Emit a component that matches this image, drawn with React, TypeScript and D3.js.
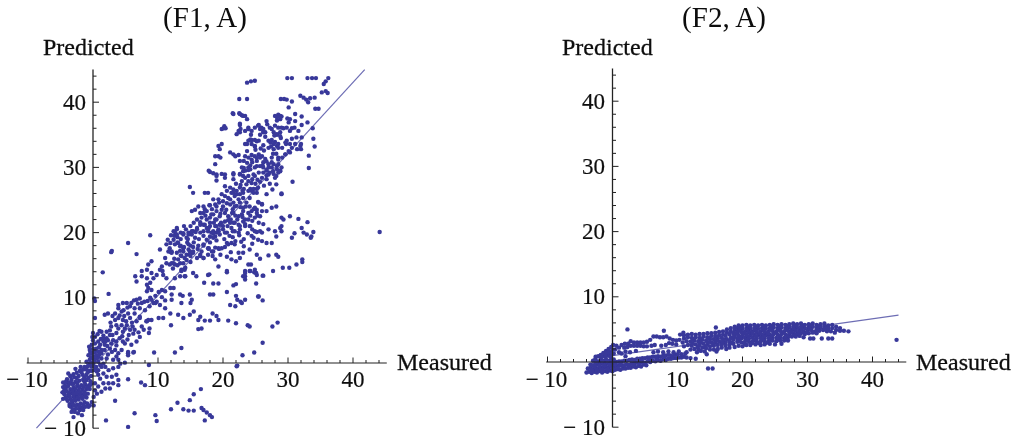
import React from "react";
import * as d3 from "d3";

// measured, predicted pairs
const f1Top = [23.7,43,24.3,43.2,24.9,43.3,29.9,43.7,30.6,43.7,33,43.7,33.7,43.7,34.3,43.7,35.5,42.8,35.8,43.2,36.2,43.7,35.2,41.5,35.8,41.7,36.1,41.4,22.5,40.5,23.7,40.5,28.9,40.5,29.4,40.5,29.8,40.4,30.6,40.1,30.1,39.2,31.9,41,32.4,40.7,32.8,40.4,33.1,40,33.4,40.6,34.1,40.7,34.2,39,34.7,39,21.5,38.3,22.5,38.3,22.9,38,23.1,37.9,23.7,37.4,20.1,36,20.4,36,19.8,35.9,20.2,36.3,
28,37.9,28.5,38.1,29,37.8,28.3,37.2,28.8,37.4,29.9,37.5,31.1,38.2,32.1,37.8,30.1,36.9,31.1,37.1,32.1,36.5,33,36.9,33.8,36,26.7,37.1,26.8,36.6,22.1,35.1,22.4,35.6,22.7,35.9,22.6,36.5,23.4,35.6,23.9,36.1,24.4,35.6,24.9,36.1,25.4,36.4,25.9,36.1,26.2,35.6,25.7,35.9,26.5,35.4,27.2,36.1,28,36.4,28.5,36.1,29.3,36,29.8,36.1,30.3,35.6,30.6,36,31.6,35.6,27.8,35.4,28.3,35.1,28.8,34.8,
28.3,37.7,28.8,37.9,30.3,37.4,26.2,35.4,28.3,35,28.8,35.4,29,36.1,27.5,35.9,25.5,36.5,26.2,35.9,23.9,35.9,22.6,35.4,21.6,38.2,22.6,38.2,23.4,37.9,22.6,36.7,31,36.1];
const f1Upper = [23.9,34.1,24.4,34.2,24.9,34.2,25.5,34.1,23.7,33.6,24.4,33.6,24.9,33.2,27,34.1,27.5,34.2,28,33.9,28.5,33.6,27,33,27.8,32.8,28.5,33,29.8,34.1,30.6,34.4,31.3,34.6,32.1,34.6,32,33.6,32,32.8,33.9,34.4,34.1,33.2,33.2,31.8,33.2,29.9,19.3,33.3,19.8,33.6,19.5,32.8,18.8,31.7,19.3,31.7,19.6,31.5,18.8,30.5,21.1,32.3,21.6,32,21.9,31.7,22.4,31.9,29.7,33.6,30.3,33.6,31.1,33.6,30.1,32.5,30.6,33,29.6,32,29.1,31.5,28.5,31.2,
22.6,31,23.4,31.7,23.9,31.5,24.4,31.9,24.9,31.7,25.5,32,26,31.7,26.5,31.3,25.7,31.5,25.2,31,24.4,31.2,23.7,30.7,23.9,30,23.4,29.5,24.2,29.7,23.1,28.7,23.9,28.7,22.9,30,24.9,30,25.7,30.2,26.2,30,27,30,27.8,30.5,28.5,30.5,29,30,28.3,29.7,28.8,29.5,27.2,29.2,27.8,29,26.2,29.2,26.7,28.8,25.5,29.2,24.9,28.7,28,28.4,27.5,31.5,27,30.5,28.5,29.2,17.8,29.5,18.5,29.1,19,28.7,19.8,29,20.3,28.4,21.6,29.1,
31.9,33.3,31.4,32.8,30.3,32.3,29.6,32,28.5,31.5,29.6,33.8,28.3,30.2,27.5,30,26.7,29.5,26.2,30.8,25.2,31.5,23.2,31,22.6,29,24.2,30.3,27.3,33.8,27.8,33.6,28.3,33.3,26.2,33.4,25.2,34,24.2,34.3,23.4,33.6,24.9,33.3];
const f1Mid = [18,29.3,19,28.9,20.3,28.9,19,28,21.6,28.9,21.6,28.2,22.6,28.9,23.1,29.4,23.9,29.6,24.7,28.9,23.4,28.4,23.9,27.9,22.9,27.9,23.6,27.4,26.7,29.6,27.7,29.4,28.8,29.4,27,28.9,26,28.4,26.7,28.2,28.2,28.7,27.2,27.5,28.2,27.4,30.7,27.8,14.9,27,15.4,26.1,17.2,26.1,17.7,26.1,20.3,27.1,21.1,26.9,21.6,26.6,20.6,26.4,21.3,26.1,22.1,26.4,22.6,26.9,19.8,25.9,20.3,25.6,20.8,25.3,21.8,25.6,22.6,25.9,23.1,26.1,23.9,26.4,24.7,26.7,25.4,26.9,25.2,26.1,24.4,26.4,26.7,25.9,27.6,26.6,29,26,18.5,25.1,19.3,25.1,20,24.8,21.1,25.1,22.4,25.1,23.1,25.3,23.6,24.6,24.1,25.3,25.4,24.7,26,24.3,15.7,23.5,16.2,24,17.2,23.6,17.9,24.2,18.8,24.3,20,24,21.1,24.3,21.8,24,22.6,24.6,23.1,23.8,24.1,24,24.9,23.8,
15.2,23.3,17,23,17.5,23.3,18.2,22.8,19,23.3,16.7,22.3,17.5,22,18,22.3,18.8,22,19.5,22.5,20.3,23,20.8,22.5,21.6,23,22.4,22.5,23.1,23.3,23.9,23,24.4,23.3,25.2,23.5,26,23.3,26.7,23.3,27.5,23.8,28.2,24,25.7,22.5,24.9,22.3,23.9,22,23.1,21.7,22.4,21.2,21.8,21.5,21.1,21.5,20.3,21.7,19.5,21.2,18.8,21,18,21,17.2,21.2,16.5,21.2,17.7,20.2,18.5,20.2,19.3,20.5,20,20.5,19.5,19.7,18.8,19.4,18,19.4,17.5,18.9,21.3,20.7,21.8,20.2,22.6,20.5,23.4,21,24.1,21,24.9,20.2,25.7,20.2,24.7,19.2,26,18.7,26.7,18.4,27,20.5,28,20.2,28.2,19.4,27.5,18.4,29,22.3,29.3,22,30.3,22.5,31.6,22.1,33,21.6,28.8,20.7,29,20.2,31,19.9,30.6,19.2,32.1,20.7,32.4,20,32.9,19.7,33.9,20.1,33.6,19.4,33.5,19.2,15.4,20.2,14.7,20,13.9,19.7,15.2,19.7,14.4,19.2,15.7,19.2,12.9,20.5,12.6,20.1,12.4,18.9,21.3,18.4,20.8,18.2,21.8,18.2,
21.6,26.1,22.1,25.9,23.2,26.7,24.2,26.7,25.2,26.7,24.7,26.1,21.6,24.6,22.1,24.1,21.4,23,21.9,22.6,22.9,22.8,23.4,22,24.2,22.6,24.7,23.6,25.2,23,25.5,24.6,26,24.4,22.6,21,23.4,21.3,22.4,20,23.2,19,24.2,21,24.4,19.5,25.2,20.1,26,20,25.5,21.5,26.2,21.3,21.6,21.5,21.5,20.2,21.9,18.7,23.2,17.9,
18,21.5,19,22,18.5,22.8,19,21,19.7,21.5,20,21,20.7,21,20.3,20,19,20,18.2,20,17.5,20.7,17,20.2,16.5,20,16,20.7,17,19.5,18,18.5,19,18.8,20.2,19,21,19.5,21.2,22,20.5,23.5,19.8,23.5,19,24,18,24.2,17,24,16.5,23,16,22,15.5,21.5,15,21,14.3,20.5,14,21,13.5,20,13.5,19,13,18.5,12.5,19.5,13.5,18,14.5,18.5,15,18,15.5,18.5,16.2,18,17,18,17.8,17.5,16.3,19,15.4,17.8,14.7,17.4,14,17.8,12,17,12.5,16,13.5,16.5,14.4,15.8,15,15.5,13,15,12.3,14.5];
const f1Lower = [11.3,18.2,11.8,17.6,12.6,18.2,13.4,17.9,12.1,16.9,12.9,16.9,13.9,17.1,14.1,16.1,14.9,16.6,15.4,16.9,16.5,16.6,17,16.1,16.7,17.1,17.7,17.6,18.5,17.1,19.4,17.5,17.7,16.6,18.8,15.9,11.1,16.1,11.8,15.1,12.6,15.1,13.1,15.9,13.9,15.3,13.6,14.3,14.1,14.3,15.4,13.8,15.9,13.3,10.6,14.8,10.7,14.1,12.6,13,14.1,13.3,17.7,13.5,19.3,14.8,20.6,14.1,20.6,16.3,21.3,15.9,22,15.6,22.6,16.1,22.4,16.9,23.1,16.9,24.1,17.4,25.2,16.6,23.9,15.1,23.4,14.1,24.1,14.1,24.9,14.3,26.2,13.4,25.7,16,27,16.5,28.2,16.6,28.5,16.3,27.7,14.1,29.2,14.6,30.2,14.6,31.3,15.1,32.2,15.9,32.2,15.5,23.1,13.3,
8.8,19.6,5.4,18.4,6.7,16.7,2.9,17.2,2.8,17,1.5,13.9,2.4,10.6,0.3,9.5,0.2,9.9,0.3,6.9,10.3,17.4,6.5,13.3,6.7,12.5,7.5,13.3,8.3,13,7.5,14.1,8.3,14.3,9,15.6,8.5,15.1,9,13.8,9.3,13,8.8,12.3,8.3,12,8.5,11.5,9,11.2,8.3,11,9.8,13.5,10.3,14.3,10.8,13.5,11.3,13,12.1,15.3,11.3,15.3,10.6,11.2,11.1,11,11.9,11.5,12.4,11.5,12.1,10.5,12.1,9.7,10.3,8.9,9.6,9.2,9,9.7,11.1,8.4,11.9,7.6,12,5.8,10.8,6.9,10.1,6.9,9,6.6,8.3,6.4,7.8,5.1,8.5,6.6,7.2,6.9,
12.4,20.2,12.9,20.7,12.9,19.7,13.9,19.9,14.7,19.7,15.2,20.2,16,20.5,17,21.2,17.8,20.7,18.5,19.9,19.3,20.2,11.9,18.4,13.1,18.4,13.9,17.6,14.7,18.2,15.4,17.1,16.5,16.4,17,16.1,11.6,17.1,12.1,17.1,13.6,16.4,14.4,16.6,15.2,16.9,16,16.1,15,16.4,13.4,15.3,12.4,15.3,13.6,14.1,14.2,14.6,13.4,13.3,14.2,13.3,17,18.2,18.5,19.2,17.8,17.6,18.3,17.1,19.3,17.6,19.8,17.6,20.6,18.4];
const f1Sparse = [13.4,10.5,13.8,10.3,13.6,9.2,14.9,10.5,15.2,9.7,15,9.2,13.1,7.4,13.9,6.9,14.9,7.4,15.5,7.9,16.5,7.1,16.2,6.6,18.5,10.5,18,10.5,16.7,5.3,16.2,5.2,17.2,6.5,18,6.5,18.4,7.6,19,7.2,19.3,6.6,20.8,6.5,22,6.1,23.8,5.8,24.1,5.6,21.1,8.9,22,10.3,22.2,9.7,22.7,9.4,23.4,9.7,21.9,8.7,22.9,9.2,25.4,10.2,20.6,10.9,21.6,11.9,22,12.1,23.4,13.8,23.4,13.3,23.4,12.8,24.2,14.1,24.9,13.9,25.2,13.5,24.3,15.1,17.9,13.6,17.1,12.3,18.5,12.2,19.3,12.2,20.6,13.9,
9.4,1.6,12.6,1.6,13.6,2.3,23,1.2,24.8,1.6,26.1,3.1,22.1,-0.5,27.6,5.6,28.4,6.2,25.5,10.2,26.1,9.6,25.1,12.2,26.1,13.4,24.8,13.9,25.1,13.8,44.1,20.1,29,21,29,25.9];
const f1Band = [3.9,8.9,3.9,8.4,4.6,9.2,5.2,9.2,5.9,9.2,6.7,9.7,7.2,9.9,5.7,8.7,6.4,8.4,5.4,7.6,4.4,7.9,3.4,7.6,2.3,7.6,1.8,7.4,3.4,6.6,3.9,6.9,4.6,6.6,5.7,6.9,6.4,7.6,7.2,8.4,8,8.1,8.7,8.7,9.3,9.2,9.8,9.4,7.2,7.1,6.7,6.4,5.2,5.8,4.4,5.8,3.6,5.8,2.8,5.6,2.1,4.8,1.3,4.8,2.6,4.3,3.6,4.6,4.6,4.8,5.7,5.1,6.4,5.1,7.5,5.6,8.2,6.4,8.7,5.3,8.6,4.6,7.2,4,6.7,3.3,5.9,2.8,5.4,1.7,4.6,3.3,4.1,3.8,3.6,3.3,3.1,3.5,2.3,3.5,1.6,3.8,2.6,2.2,3.4,2,4.4,2,1.1,2.8,1.8,2.8,1.1,1.7,0.5,2.2,3.9,0.5,3.1,0.5,2.1,0.7,5.4,1.2,6.3,1.7];
const f1Origin = [0,3.5,-0.2,2.8,0,2.2,-0.5,2,-0.7,1.2,-0.2,1.5,0.3,1.7,0.5,1.2,0,0.7,-0.5,0.5,-1,0.2,0.8,1,1.3,1.5,1.3,2,1.8,2,1.3,0.7,0.8,0.2,0,-0.1,0.5,-0.6,1.1,-0.3,1.6,-0.1,0.3,3,0.3,4,0,4.6,1.6,3.3,2.1,3.8,-0.5,-0.1,0.3,-1.1,0.8,-1.1,1.3,-0.6,-0.3,0,-0.8,-0.5,0.2,0.3,0.6,0.7,1,1.3,-0.4,1.6,-0.6,2.5,0.1,1,0.5,2,0.9,2.4,-0.1,4,
-1,-1,-1.5,-1,-2,-1.2,-2.5,-1.5,-3,-1.7,-3.5,-2,-4,-2.5,-0.5,-1.2,-0.3,-2,-1,-1.8,-1.6,-1.8,-2.2,-2,-2.8,-2.2,-3.3,-2.6,-3.9,-3,-4.3,-3.5,-0.4,-2.8,-1,-2.6,-1.5,-2.6,-2.1,-2.7,-2.7,-2.9,-3.3,-3.2,-3.8,-3.5,-4.4,-4,-0.6,-3.4,-1.2,-3.3,-1.8,-3.4,-2.4,-3.5,-3,-3.7,-3.5,-4,-4.1,-4.3,-4.4,-4.8,-0.5,-4,-1,-4,-1.6,-4.1,-2.2,-4.2,-2.8,-4.3,-3.3,-4.6,-3.8,-4.9,-4.2,-5.3,-0.8,-4.7,-1.4,-4.8,-2,-4.8,-2.5,-5,-3,-5.2,-3.5,-5.5,-3.9,-5.8,-1,-5.3,-1.6,-5.5,-2.2,-5.6,-2.7,-5.8,-3.2,-6,-3.6,-6.3,-1.3,-6,-1.9,-6.2,-2.4,-6.4,-2.9,-6.5,-3.4,-6.7,-1.6,-6.8,-2.1,-7,-2.6,-7,-3.1,-7.1,-0.2,-0.5,-0.7,-0.4,-1.3,-0.6,-2.7,-0.9,-3.8,-1.6,-4.6,-3,-4.7,-4.5,-4.6,-5.5,-0.9,-6.2,-1.9,-0.6];
const f1Below = [0.3,-0.6,0.6,-1.3,0.8,-1.8,1.1,-2.4,0.3,-3.1,0.3,-4.2,0.1,-5.2,-0.2,-6,-0.5,-6.5,-0.7,-6.7,-1.2,-6.7,-1.5,-7.2,-2,-7.2,-2.3,-7.7,-3,-8.3,-3.3,-7.5,-2.8,-7.5,-1.7,-8,1.9,-0.6,2.4,-1.1,3.1,-0.8,3.9,-0.6,1.6,-1.6,2.1,-2.1,2.9,-2.1,3.6,-1.8,3.9,-2.6,3.9,-3.4,1.6,-3.1,2.4,-3.1,3.1,-3.1,0.8,-3.6,1.3,-4.4,1.9,-3.9,2.6,-3.9,0.6,-4.7,0.1,-6.5,3.4,-5.8,2,-8.8,5.4,-9.8,6.4,-7.7,5.4,-2.5,7.4,-3,8,-3.4,9.6,-8,9.8,-8.9,12,-7.1,13,-6.1,13.9,-7.1,14.7,-7.3,15.5,-7.3,14.9,-5.7,15.5,-4.8,16.6,-4,16.7,-6.9,17,-7.2,17.5,-7.6,18,-8,18.3,-8.3,17.2,-8.8,8.6,-0.3,22.2,-0.4,4.2,-0.1,4.9,0.05,6.2,1.6,5.4,1.5,3.9,1.5,2.9,1.7,3.6,1];
const f1Extra = [17.3,22.6,18.3,23.6,19.4,24.6,20.6,24.5,21.5,23.6,22.7,23.9,23.5,24,18.6,21.5,19.3,20.2,20.6,20,21.5,19.3,22.5,19.6,23.8,19.9,24.5,20.5,19.6,22.9,20.8,21.9,22.2,22,23,22.4,24.5,21.8,25.3,22.6,16.5,21.6,15.8,20.1,14.6,19,13,19.3,12,19.6,11.5,18.9,13.4,17.2,14.9,17.1,16.1,17.5,18.8,17.7,20.3,17.8,21.2,17,19.6,16.6,18.4,16.4,22.8,18.6,24.5,18.3,25.4,18.9,
22,27.5,22.7,27.3,23,26.4,24.4,27.6,25,27.5,25.7,27.8,26.3,27.2,25.3,28.1,24.5,28.2,23.2,29.9,24.5,30.8,25.2,30.2,26.1,30.3,26.7,30.9,27.5,30.8,27.7,32.1,26.3,32.6,25.8,32.9,25,32.7,23.7,32.5,28.2,32.1,27.4,33.2,29.1,33,28.9,34.5,27.9,34.9,26.5,34.7,25.7,35,24.3,35,
8.8,10,9.6,10.3,10.1,10.9,10.6,10.1,11.1,9.6,7.9,9.4,8.4,9.5,7.5,9.2,6.9,9.1,6.3,9.6,5.3,8.5,4.7,8.1,4.8,7.2,5.1,6.4,6,6.2,4.1,7.3,3,7.2,2.7,6.2,3.9,5.3,4.9,5.3,6.1,5.6,7,4.7,6.2,4.5,5.5,4.3,4.5,4.1,3,4.3,2.6,5,1.6,4.2,1.9,3.3,2.8,3,3.6,2.7,4.9,3,5.3,3.6,1.2,3.7,0.8,3.3,0.7,4.4,1,4.9,2.2,2.6,2.3,1.3,0.9,1.7,0,1.6,-0.3,0.9,
-1.8,-1.4,-3.4,-2.1,-4.2,-2.9,-0.8,-1.4,-1.3,-2.2,-2.5,-2.3,-3.6,-3,-4.6,-3.7,-0.7,-2.3,-1.3,-2.9,-2.4,-3,-3,-3.2,-4.1,-3.7,-0.9,-3.7,-1.5,-3.7,-2.1,-3.8,-2.7,-3.9,-3.2,-4.2,-3.8,-4.5,-4.5,-4.4,-1.3,-4.4,-1.9,-4.5,-2.5,-4.6,-3,-4.8,-3.6,-5.1,-4.1,-5.5,-1.2,-5.1,-1.8,-5.2,-2.3,-5.3,-2.8,-5.5,-3.3,-5.8,-1.5,-6.4,-2.1,-6.6,-2.7,-6.5,-3.1,-6.4,-3.6,-6.6,-0.5,-3.5,-0.3,-3.2,-0.2,-1.2];

const f2Bottom = [-4,-1.6,-3.6,-1.5,-3.2,-1.7,-2.8,-1.5,-2.4,-1.6,-2,-1.4,-1.6,-1.6,-1.2,-1.4,-0.8,-1.5,-0.4,-1.3,0,-1.4,0.4,-1.2,0.8,-1.1,1.2,-1.2,1.6,-1,2,-1,2.4,-0.9,2.8,-0.9,3.2,-0.7,3.6,-0.8,4,-0.6,4.4,-0.7,4.8,-0.4,5.2,-0.5,
-3.8,-1,-3.4,-0.9,-3,-1.1,-2.6,-0.9,-2.2,-1,-1.8,-0.8,-1.4,-0.9,-1,-0.8,-0.6,-0.9,-0.2,-0.7,0.2,-0.8,0.6,-0.6,1,-0.6,1.4,-0.5,1.8,-0.5,2.2,-0.4,2.6,-0.4,3,-0.2,3.4,-0.3,3.8,-0.1,4.2,-0.2,4.6,0,5,-0.1,5.4,0.1,5.8,0,6.2,0.2,6.6,0.1,7,0.3,7.4,0.2,7.8,0.4,8.2,0.3,8.6,0.5,9,0.5,9.4,0.6,9.8,0.6,10.2,0.7,10.6,0.7,11,0.8,11.4,0.7,12,0.6,12.8,0.5,
-3.4,-0.4,-3,-0.5,-2.6,-0.3,-2.2,-0.4,-1.8,-0.2,-1.4,-0.3,-1,-0.2,-0.6,-0.3,-0.2,-0.1,0.2,-0.2,0.6,0,1,0.1,1.4,0.1,1.8,0.2,2.2,0.2,2.6,0.3,3,0.4,3.4,0.3,3.8,0.5,4.2,0.5,4.6,0.6,5,0.6,5.4,0.7,5.8,0.7,6.2,0.8,6.6,0.8,7,0.9,7.4,0.8,7.8,1,8.2,1,8.6,1.1,9,1,9.6,1.1,10,1.2,10.6,1.2,11.2,1.3,
-3,0.2,-2.6,0.3,-2.2,0.1,-1.8,0.3,-1.4,0.2,-1,0.4,-0.6,0.2,-0.2,0.5,0.2,0.4];
const f2Hump = [-2.6,0.8,-2.2,0.9,-1.8,1.1,-1.4,1.4,-1,1.7,-0.6,2,-0.2,2.3,0.1,2.6,0.6,2.5,1,2.2,-1.8,0.6,-1.2,0.9,-0.7,1.1,-0.3,1.5,0,1.9,0.4,1.9,0.2,1.3,-1,1.2,-0.6,1.5,
1.4,2.6,1.9,2.8,2.4,2.8,2.8,3.2,3.3,3,3.8,3,4.3,3,4.8,3,5.3,3.1,5.8,3.4,6.3,3.9,6.8,3.9,7.3,3.8,7.8,3.8,8.3,3.9,8.8,3.6,9.3,3.4,9.8,3.3,10.3,3.4,1.8,2.2,2.3,2.3,2.8,2.5,3.3,2.5,3.8,2.5,4.3,2.5,4.8,2.4,5.3,2.4,6,2.5,6.5,2.6,7.5,2.5,8.2,2.6,8.7,2.9,9.2,2.8,9.8,2.7,
1,1.5,1.4,1.3,2,1.6,2.7,1.5,3.6,1.7,6.3,1.5,7,1.6,7.8,1.5,8.6,1.6,9.4,1.5,10.2,1.6,11.4,1.5,2.3,5,7.9,4.8,10.9,4.5,15.9,5.3,14.7,-1,15.4,-1,43.7,3.4];
const f2RowA = [10.4,4.2,11,4.1,11.6,4.2,12.2,4.3,12.8,4.2,13.4,4.3,14,4.3,14.6,4.4,15.2,4.4,15.8,4.5,16.4,4.6,17,4.7,17.6,5,18.2,5.2,18.8,5.4,19.4,5.6,20,5.6,20.6,5.7,21.2,5.6,21.8,5.7,22.4,5.6,23,5.7,23.6,5.6,24.2,5.7,24.8,5.8,25.4,5.7,26,5.8,26.6,5.7,27.2,5.8,27.8,5.9,28.4,5.8,29,5.9,29.6,5.7,30.2,5.8,30.8,5.9,31.4,5.7,32,5.8,32.6,5.9,33.2,5.6,33.8,5.7,34.4,5.4,35,5.2];
const f2RowB = [11,3.6,11.6,3.8,12.2,3.7,12.8,3.8,13.4,3.7,14,3.9,14.6,3.8,15.2,4,15.8,4,16.4,4.1,17,4.2,17.6,4.5,18.2,4.7,18.8,4.9,19.4,5.1,20,5.1,20.6,5.2,21.2,5.1,21.8,5.2,22.4,5.1,23,5.2,23.6,5.1,24.2,5.2,24.8,5.3,25.4,5.2,26,5.3,26.6,5.2,27.2,5.3,27.8,5.4,28.4,5.3,29,5.4,29.6,5.2,30.2,5.3,30.8,5.4,31.4,5.2,32,5.3,32.6,5.4,33.2,5.1,33.8,5.2,34.4,4.9,35,4.8,35.6,4.8,36.3,4.7];
const f2RowC = [10.8,3,11.4,3.2,12,3.1,12.6,3.3,13.2,3.2,13.8,3.4,14.4,3.3,15,3.5,15.6,3.5,16.2,3.6,16.8,3.7,17.4,4,18,4.2,18.6,4.4,19.2,4.6,19.8,4.6,20.4,4.7,21,4.6,21.6,4.7,22.2,4.6,22.8,4.7,23.4,4.6,24,4.7,24.6,4.8,25.2,4.7,25.8,4.8,26.4,4.7,27,4.8,27.6,4.9,28.2,4.8,28.8,4.9,29.4,4.7,30,4.8,30.6,4.9,31.2,4.7,31.8,4.8,32.4,4.9,33,4.7,33.6,4.7,34.2,4.5];
const f2RowD = [11,2.4,11.6,2.6,12.2,2.5,12.8,2.7,13.4,2.6,14,2.8,14.6,2.7,15.2,3,15.8,3,16.4,3.1,17,3.2,17.6,3.5,18.2,3.7,18.8,3.9,19.4,4.1,20,4.1,20.6,4.2,21.2,4.1,21.8,4.2,22.4,4.1,23,4.2,23.6,4.1,24.2,4.2,24.8,4.3,25.4,4.2,26,4.3,26.6,4.2,27.2,4.3,27.8,4.4,28.4,4.3,29,4.4,29.6,4.3,30.2,4.4,30.8,4.5,31.4,4.4];
const f2RowE = [12,1.9,12.6,2,13.2,2,13.8,2.2,14.4,2.1,15,2.4,15.6,2.5,16.2,2.6,16.8,2.7,17.4,3,18,3.2,18.6,3.4,19.2,3.6,19.8,3.6,20.4,3.7,21,3.6,21.6,3.7,22.2,3.6,22.8,3.7,23.4,3.6,24,3.7,24.6,3.8,25.2,3.7,25.8,3.8,26.4,3.7,27,3.8,27.6,3.9,28.2,3.9,28.8,4,29.4,3.8,30.4,3.6,30.9,3.6,32.2,3.6,33.2,3.6,33.8,3.6];
const f2RowF = [13,1.5,13.6,1.7,14.2,1.6,15,1.9,15.6,1.9,16.2,2,16.8,2.2,17.4,2.5,18,2.7,18.6,2.8,19.2,3.1,19.8,3,20.4,3.2,21,3.1,21.6,3.2,22.2,3.1,22.8,3.2,23.4,3.1,24,3.2,24.6,3.3,25.2,3.2,25.8,3.3,26.4,3.3,27,3.3];
const f2RowG = [14.5,1.2,16,1.6,17.5,2,18,2.2,18.8,2.3,19.4,2.5,20,2.4,20.6,2.6,21.2,2.6,22,2.7,22.8,2.6,23.4,2.7,24.2,2.8,25,2.7,26,2.8];
const f2Fill = [18.9,5.2,19.7,5.35,20.9,5.4,22.1,5.4,23.3,5.4,24.5,5.5,25.7,5.5,26.9,5.5,28.1,5.6,29.3,5.6,30.5,5.6,31.7,5.5,32.9,5.4,19.5,4.85,20.7,4.9,21.9,4.95,23.1,4.9,24.3,5,25.5,5,26.7,5,27.9,5.1,29.1,5.1,30.3,5.1,31.5,5,32.7,5.1,19.1,4.35,20.3,4.4,21.5,4.45,22.7,4.4,23.9,4.45,25.1,4.5,26.3,4.5,27.5,4.6,28.7,4.6,29.9,4.55,31.1,4.6,18.5,3.8,19.7,3.85,20.9,3.9,22.1,3.9,23.3,3.9,24.5,4,25.7,4,26.9,4,28.1,4.1,18.3,2.95,19.5,3.35,20.7,3.4,21.9,3.4,23.1,3.45,24.3,3.45,25.5,3.5,26.7,3.5,20.3,2.8,21.5,2.9,22.5,2.9,23.7,2.95,
12.5,3.5,13.7,3.5,14.9,3.7,16.1,3.85,12.3,2.9,13.5,3,14.7,3,15.9,3.3,17.1,3.45,13.1,2.3,14.3,2.4,15.5,2.7,16.9,2.95,-3.2,-1.3,-2.4,-1.3,-1.6,-1.2,-0.8,-1.1,0,-1,-2.8,-0.7,-2,-0.6,-1.2,-0.5,-0.4,-0.4,0.4,-0.4,1.2,-0.2,-2.4,0,-1.6,0.05,-0.8,0.1,0,0.1,2,0.9,3.2,-0.5,4.4,0.2,5.6,0.4,6.8,0.5,8,0.7,9.2,0.8,-1.6,0.85,-1,0.85,-0.4,0.9,-0.1,1.3];

const f1Series = [f1Top, f1Upper, f1Mid, f1Lower, f1Sparse, f1Band, f1Origin, f1Below, f1Extra];
const f2Series = [f2Bottom, f2Hump, f2RowA, f2RowB, f2RowC, f2RowD, f2RowE, f2RowF, f2RowG, f2Fill];
const f1Fit = [[-8.7, -10], [41.8, 45]];
const f2Fit = [[-3, 0.55], [44, 7.2]];
const majorTicks = [-10, 10, 20, 30, 40];
const minorTicks = [-8, -6, -4, -2, 2, 4, 6, 8, 12, 14, 16, 18, 22, 24, 26, 28, 32, 34, 36, 38, 42, 44];

const POINT = "#38389a";
const SERIF = "'Liberation Serif', 'Times New Roman', serif";

const toPairs = (flat: number[]) => d3.range(0, flat.length, 2).map((i) => [flat[i], flat[i + 1]]);

function Panel({ ox, oy, title, titleX, predX, measX, labelRight, series, fit }: any) {
  const x = d3.scaleLinear().domain([0, 10]).range([ox, ox + 65]);
  const y = d3.scaleLinear().domain([0, 10]).range([oy, oy - 65.2]);
  const line = d3.line<number[]>().x((d) => x(d[0])).y((d) => y(d[1]));
  const pts = series.flatMap(toPairs);
  return (
    <g fontFamily={SERIF} fill="#111">
      <path d={line(fit) as string} fill="none" stroke="#6d6db4" strokeWidth={1.2} />
      {pts.map((p: number[], i: number) => (
        <circle key={i} cx={x(p[0])} cy={y(p[1])} r={2.2} fill={POINT} />
      ))}
      <line x1={x(-10.2)} x2={x(45.2)} y1={oy} y2={oy} stroke="#222" strokeWidth={1.2} />
      <line x1={ox} x2={ox} y1={y(-10)} y2={y(45)} stroke="#222" strokeWidth={1.3} />
      {majorTicks.map((t) => (
        <g key={t}>
          <line x1={x(t)} x2={x(t)} y1={oy} y2={oy - 5.5} stroke="#222" />
          <line x1={ox} x2={ox + 6} y1={y(t)} y2={y(t)} stroke="#222" />
        </g>
      ))}
      {minorTicks.map((t) => (
        <g key={t}>
          <line x1={x(t)} x2={x(t)} y1={oy} y2={oy - 3} stroke="#222" />
          <line x1={ox} x2={ox + 3.5} y1={y(t)} y2={y(t)} stroke="#222" />
        </g>
      ))}
      {majorTicks.map((t) => (
        <text key={t} x={t < 0 ? x(t) - 1 : x(t)} y={387} fontSize={23} textAnchor="middle" stroke="#111" strokeWidth={0.2}>
          {t < 0 ? "\u2212 10" : t}
        </text>
      ))}
      {majorTicks.map((t) => (
        <text key={t} x={labelRight} y={y(t) + 7.5} fontSize={23} textAnchor="end" stroke="#111" strokeWidth={0.2}>
          {t < 0 ? "\u2212 10" : t}
        </text>
      ))}
      <text x={titleX} y={27} fontSize={29} textAnchor="middle">{title}</text>
      <text x={predX} y={55} fontSize={24} stroke="#111" strokeWidth={0.3}>Predicted</text>
      <text x={measX} y={370} fontSize={24} stroke="#111" strokeWidth={0.3}>Measured</text>
    </g>
  );
}

export default function App() {
  return (
    <svg width={1024} height={442} style={{ position: "absolute", left: 0, top: 0, background: "#fff" }}>
      <defs>
        <filter id="soft" x="0" y="0" width="100%" height="100%">
          <feGaussianBlur stdDeviation={0.35} />
        </filter>
      </defs>
      <g filter="url(#soft)">
        <Panel ox={93} oy={363} title="(F1, A)" titleX={205} predX={43} measX={397} labelRight={86} series={f1Series} fit={f1Fit} />
        <Panel ox={612.5} oy={362} title="(F2, A)" titleX={724} predX={562} measX={916} labelRight={605} series={f2Series} fit={f2Fit} />
      </g>
    </svg>
  );
}
